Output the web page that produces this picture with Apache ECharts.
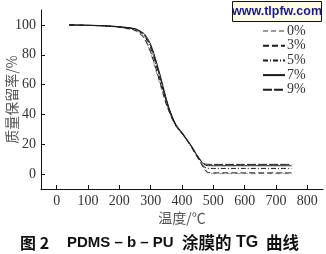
<!DOCTYPE html>
<html><head><meta charset="utf-8">
<script src="https://cdn.jsdelivr.net/npm/echarts@6/dist/echarts.min.js"></script>
<style>html,body{margin:0;padding:0;background:#fff}#c{width:326px;height:254px}</style>
</head><body><div id="c"></div>
<script>
var temps = [40,100,150,200,250,270,280,290,300,310,320,330,340,350,360,370,380,390,400,410,420,430,440,450,460,470,480,490,500,600,750];
var names = ['0%','3%','5%','7%','9%'];
var s0 = [100,99.6,99.2,98.3,96,93,90.5,86.5,81,74,67,60,53,46.5,41,36,32,29.5,27,24,21,18,14.5,11,7.5,3.5,1,0.3,0.3,0.3,0.3];
var s3 = [100,99.7,99.3,98.5,96.5,93.5,91,87,82,75.5,68.5,61.5,54,47,41.5,36.5,32.5,29.5,27,24.5,21.5,18,14.5,11,7.5,4,1.5,0.8,0.8,0.8,0.8];
var s5 = [100,99.7,99.4,98.6,97,94.5,92.5,89,84.5,78,71,63.5,56,48.5,42,37,33,30,27.5,24.5,21.5,18.5,15,11.5,8.5,5,3.9,3.8,3.8,3.8,3.8];
var s7 = [100,99.8,99.5,98.8,97.5,95.5,94,91,87,81,74,66.5,58.5,50.5,43.5,38,33.5,30.5,28,25,22,19,15.5,12,9,6.5,5.7,5.6,5.6,5.6,5.6];
var s9 = [100,99.7,99.4,98.7,97.2,95,93,90,86,79.5,72.5,65,57,49.5,43,37.5,33,30,27.5,24.5,21.5,18.5,15,12,9,7,6.6,6.5,6.5,6.5,6.5];
var xTicks = [0,100,200,300,400,500,600,700,800];
var yTicks = [0,20,40,60,80,100];

var allSeries = [s0,s3,s5,s7,s9];
var colors = ['#9a9a9a','#1a1a1a','#1a1a1a','#1a1a1a','#1a1a1a'];
var dashes = [[5,3],[6,3],[5,2,1,2],'solid',[9,2]];
function pairs(v){ return temps.map(function(t,i){return [t,v[i]];}); }

var chart = echarts.init(document.getElementById('c'));
var serif = '"Liberation Serif","Times New Roman",serif';
var cjk = '"Noto Sans CJK SC",sans-serif';
chart.setOption({
  animation:false,
  grid:{left:41,right:3,top:10,bottom:65,outerBoundsMode:'none',containLabel:false},
  legend:{
    orient:'vertical', left:257, top:19, itemWidth:22, itemHeight:10, itemGap:0.7,
    itemStyle:{opacity:0},
    data:names, textStyle:{fontFamily:serif,fontSize:14,lineHeight:14,color:'#333',padding:[0,0,0,-3]}
  },
  xAxis:{
    type:'value', min:-50, max:850,
    name:'温度/℃', nameLocation:'middle', nameGap:22, nameMoveOverlap:false,
    nameTextStyle:{fontFamily:cjk,fontSize:14,color:'#555',verticalAlign:'top'},
    axisLine:{onZero:false,lineStyle:{color:'#111',width:1}},
    axisTick:{inside:true,length:4,customValues:xTicks,lineStyle:{color:'#111'}},
    axisLabel:{customValues:xTicks,fontFamily:serif,fontSize:14,color:'#333',margin:5},
    splitLine:{show:false}
  },
  yAxis:{
    type:'value', min:-10, max:110,
    name:'质量保留率/%', nameLocation:'middle', nameGap:22, nameRotate:90, nameMoveOverlap:false,
    nameTextStyle:{fontFamily:cjk,fontSize:14,color:'#555'},
    axisLine:{show:true,onZero:false,lineStyle:{color:'#111',width:1}},
    axisTick:{show:true,inside:true,length:4,customValues:yTicks,lineStyle:{color:'#111'}},
    axisLabel:{customValues:yTicks,fontFamily:serif,fontSize:14,color:'#333',margin:5},
    splitLine:{show:false}
  },
  series: allSeries.map(function(v,i){
    return {name:names[i], type:'line', data:pairs(v), symbol:'none', smooth:0.3,
      lineStyle:{color:colors[i], width:1, type:dashes[i]}, itemStyle:{color:colors[i]}};
  }),
  graphic:[
    {type:'rect', shape:{x:232.5,y:1.5,width:89,height:20}, style:{fill:'#fffde6',stroke:'#111',lineWidth:1}},
    {type:'text', x:277, y:12, style:{text:'www.tlpfw.com', fill:'#1a1a8a', font:'bold 12.5px "Liberation Sans",Arial,sans-serif', align:'center', verticalAlign:'middle'}},
    {type:'text', x:20, y:243, style:{text:'图 2', fill:'#111', font:'bold 16px '+cjk, align:'left', verticalAlign:'middle'}},
    {type:'text', x:67, y:243, style:{text:'PDMS – b – PU', fill:'#111', font:'bold 15px "Liberation Sans",Arial,sans-serif', align:'left', verticalAlign:'middle'}},
    {type:'text', x:182, y:243, style:{text:'涂膜的', fill:'#111', font:'bold 16.5px '+cjk, align:'left', verticalAlign:'middle'}},
    {type:'text', x:236, y:243, style:{text:'TG', fill:'#111', font:'bold 16px "Liberation Sans",Arial,sans-serif', align:'left', verticalAlign:'middle'}},
    {type:'text', x:266, y:243, style:{text:'曲线', fill:'#111', font:'bold 16.5px '+cjk, align:'left', verticalAlign:'middle'}}
  ]
});
</script></body></html>
